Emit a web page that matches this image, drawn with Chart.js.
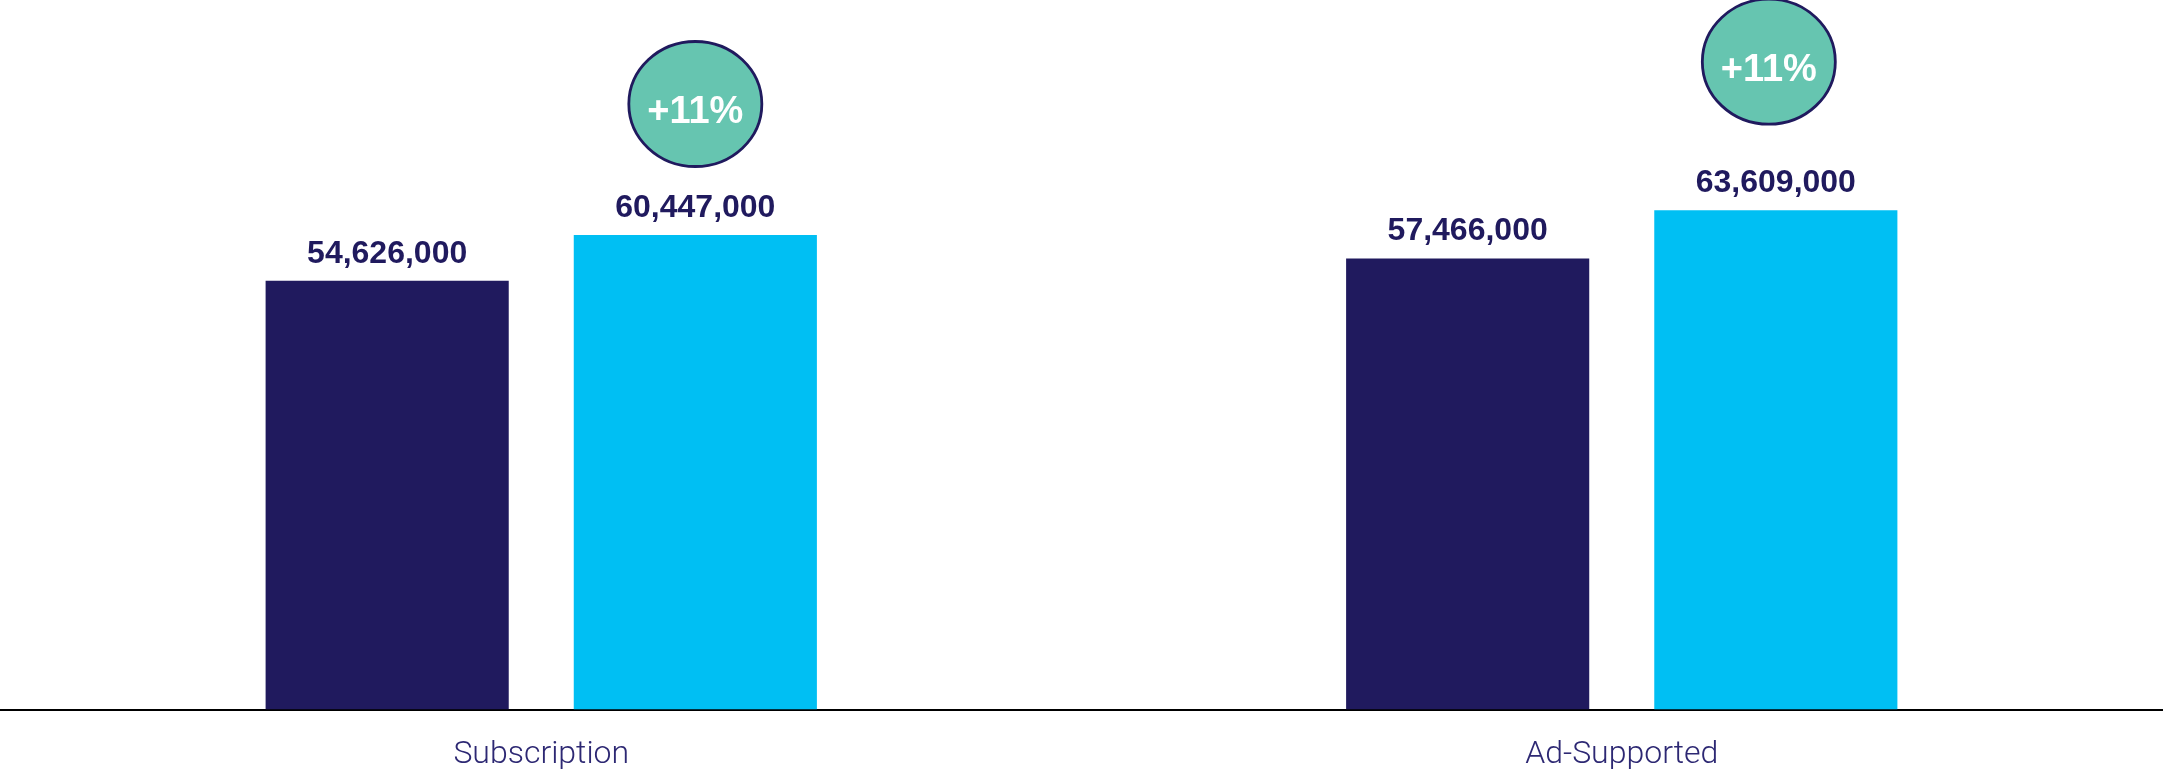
<!DOCTYPE html>
<html>
<head>
<meta charset="utf-8">
<script src="https://cdn.jsdelivr.net/npm/chart.js@4"></script>
<style>
  html, body { margin: 0; padding: 0; background: #ffffff; }
  #wrap { width: 2163px; height: 774px; }
</style>
</head>
<body>
<div id="wrap"><canvas id="c" width="2163" height="774"></canvas></div>
<script>
// ---- data ----
const categories = ['Subscription', 'Ad-Supported'];
const previousValues = [54626000, 57466000];
const currentValues = [60447000, 63609000];
const growthLabels = ['+11%', '+11%'];
const yMax = 90000000;

const NAVY = '#201a5e';
const CYAN = '#00bff3';
const TEAL = '#66c5b0';

const valueLabelPlugin = {
  id: 'valueLabels',
  afterDatasetsDraw(chart) {
    const ctx = chart.ctx;
    ctx.save();
    ctx.font = 'bold 32px "Liberation Sans", Arial, sans-serif';
    ctx.fillStyle = NAVY;
    ctx.textAlign = 'center';
    ctx.textBaseline = 'alphabetic';
    chart.data.datasets.forEach((ds, di) => {
      const meta = chart.getDatasetMeta(di);
      meta.data.forEach((bar, i) => {
        ctx.fillText(ds.data[i].toLocaleString('en-US'), bar.x, bar.y - 18);
      });
    });
    ctx.restore();
  }
};

const growthBubblePlugin = {
  id: 'growthBubbles',
  afterDatasetsDraw(chart, args, opts) {
    const ctx = chart.ctx;
    const meta = chart.getDatasetMeta(1);
    ctx.save();
    meta.data.forEach((bar, i) => {
      const off = opts.offsets[i];
      const cx = bar.x + off.dx;
      const cy = bar.y + off.dy;
      ctx.beginPath();
      ctx.ellipse(cx, cy, opts.rx, opts.ry, 0, 0, Math.PI * 2);
      ctx.fillStyle = TEAL;
      ctx.fill();
      ctx.lineWidth = 2.8;
      ctx.strokeStyle = NAVY;
      ctx.stroke();
      ctx.font = 'bold 38px "Liberation Sans", Arial, sans-serif';
      ctx.fillStyle = '#ffffff';
      ctx.textAlign = 'center';
      ctx.textBaseline = 'alphabetic';
      ctx.fillText(growthLabels[i], cx, cy + 19);
    });
    ctx.restore();
  }
};

new Chart(document.getElementById('c'), {
  type: 'bar',
  data: {
    labels: categories,
    datasets: [
      { label: 'Previous', data: previousValues, backgroundColor: NAVY,
        categoryPercentage: 0.5704, barPercentage: 0.789 },
      { label: 'Current', data: currentValues, backgroundColor: CYAN,
        categoryPercentage: 0.5704, barPercentage: 0.789 }
    ]
  },
  options: {
    responsive: false,
    animation: false,
    layout: { padding: { top: 3, left: 1, right: 1, bottom: -26 } },
    plugins: {
      legend: { display: false },
      tooltip: { enabled: false },
      growthBubbles: {
        rx: 66.5, ry: 62.5,
        offsets: [{ dx: 0, dy: -131 }, { dx: -7, dy: -148.5 }]
      }
    },
    scales: {
      x: {
        grid: { display: false, drawTicks: false },
        border: { display: true, color: '#000000', width: 2 },
        ticks: {
          padding: 26,
          color: '#2d2873',
          font: { family: 'Roboto', weight: 300, size: 32, lineHeight: 1.2 }
        }
      },
      y: {
        display: false,
        min: 0,
        max: yMax
      }
    }
  },
  plugins: [valueLabelPlugin, growthBubblePlugin]
});
</script>
</body>
</html>
